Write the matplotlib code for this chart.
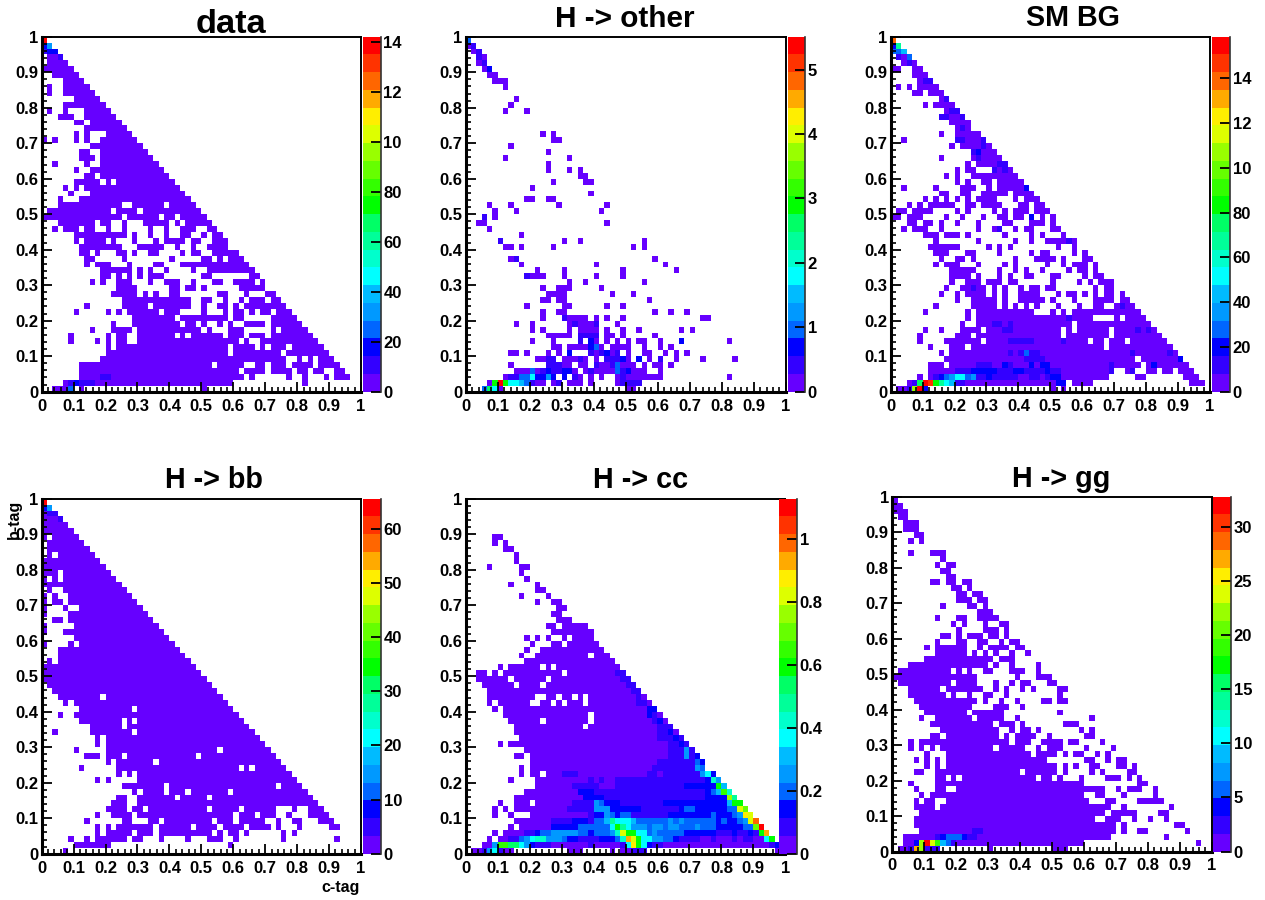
import matplotlib
matplotlib.use('Agg')
import matplotlib.pyplot as plt
import numpy as np
from matplotlib.colors import ListedColormap, BoundaryNorm

# each row is one b-tag bin, top (b=1) to bottom (b=0)
# "3-9" = c-tag bins 3..9 filled in lowest colour band, "7:4" = bin 7 in band 4
data_rows = [
    "0:19", "0:2 1:4", "0-2 0:1 1-2:2", "1-3 3:1", "1-4", "0-5", "2-6", "4-7", "1 4-8", "1 4-9",
    "6-10", "4-11", "1 4 8-12", "3-5 8-13", "6-7 9-14", "8-15", "6 8 12-16", "0 2 6 8 11-17", "9-18", "7-8 11-19",
    "7-9 11-20", "2 8 11-21", "6 9-22", "8-9 11-23", "6-10 12 14-24", "4 6 8-25", "5 9-26", "3 7-27", "3-14 17-22 24-28", "1-12 14-17 19-29",
    "0-14 16-21 23-24 26-30", "3-9 11-12 15 19-23 25 27-29 30-31", "2 4-6 8-9 12 15 20 23 26-28 31-32", "6-15 17 20 23 26-27 30 32-33", "6 8-11 13 17 21 23-26 28-29 32-34", "7-14 18-22 25 28 31-34", "7-8 10 14-15 17 20-21 26 28-29 32-36", "8-9 15 24 30-31 33 35-37", "8 10-12 16 21-22 26-38", "11-16 18 20 23 28 31-33 34-39",
    "11-12 14 16 18 20-22 30-31 39-40", "9 11 14-16 20 23-25 28 32-33 36-39 41", "14-17 24-25 27-28 30 37-41", "13-17 19 21 24-25 33-34 38 42-43", "15-27 30-31 34 37 39-41 43-44", "8 15-19 21-27 30 33-34 36 38-45", "6 12 14 16-21 23-25 30 34 36-37 39 41-42 44-46", "17-24 26-34 36-37 43-47", "13 17-25 27-28 30 33 35 38-41 43-48", "9 13-16 18-29 31 35-37 43 45-49",
    "5 12 14-15 18-24 26 28 29-33 35-37 39-41 43-50", "5 10 12 14-15 18-36 38 41-51", "12 14-31 32-34 36-39 41 43-45 47-52", "12-34 36-39 40-44 46-53", "11-40 41-45 48 50 52-54", "7-31 33-37 40-41 43-45 47-50 52-55", "7-36 38-41 43-44 45-46 48-49 51-52 55-56", "7-37 11-12:1 39 46 49 53 55-57", "4-35 5:1 6:2 7-9:1 49", "2-4 5:3 7 30",
]
other_rows = [
    "0:3", "0-1 1:1", "1-2 2:1", "2-3 2:1", "2-3 3:1", "3-4 4:2", "4-5", "5-7", "7", "",
    "9", "8", "7 11", "", "", "", "14 16", "16-17", "8", "15",
    "7 19", "15", "15 19 21", "21-22", "16 22-23", "12", "23", "11-12 15-16", "4 8 17 26", "5 9 25",
    "3:1 5", "2-3 26", "4", "10", "6:1 18 21 33", "7-8 10 16 31 33", "", "8 9:1 35", "10 24 37", "13 18 29 39",
    "11:1 12-14 18 24 29", "19 22 33", "14 17-19 25", "15-18 27 31", "14-15 17-18 34", "11 18-19 26 29", "14 17-18 35 38 41", "14 18:1 19-22 24 26 29 44-45", "9 12 19-23 20:1 24:1 28", "12 14 19 21-23 24 26 29 32 40 42",
    "15-19 21-24:1 26-27 29 35", "12 16 21:1 23:2 24 26 28 30 32-33 36 40:2 49", "16-17 19-24 23:2 24:3 25 27-30 33 36 38", "8-9 11 15 17 19:2 23:1 24 25:1 26:2 27 28:1 30 33-34 37 39 41", "13-14 15-16:1 18-20 21:1 22 24 26-28:1 29:2 30 32:2 34 36:1 39 44 50", "8 15-17:1 18-19 21-22 24:1 25-26 27:1 28:3 29-31 33 35-36 38", "9-11 12:3 13 14:1 15:2 16-17:1 18-19:2 20 22 23:1 24-27 28:3 29:1 30:2 31-33 36", "7 8-9:1 10:3 11:3 12:6 13-14:2 15:4 16:2 18:2 20:1 21 23 25 28 29:1 30-36 49", "4 5:10 6:19 7:10 8-9:6 10:5 11:3 12:1 13-14 16 17:1 19-21 23 28 29:1 30-32:1", "3:3 4:9 5:6 6 30-31",
]
smbg_rows = [
    "0:17", "0:2 1:8", "0:3 1:3 2:5", "1:1 2 3:3", "2 3:1 4", "0-1 4-5", "4-6", "5 6-7:1", "1 3 5-8", "4-5 7-9",
    "9 10:1", "6 8-11", "10 11-12:1", "9-10:1 11-12 13:1", "11-14", "12-14 13:1", "9 12-16", "2 12-13:1 14-16 17:1", "11 13-16 17:1 18", "15:1 16:2 17-19",
    "9 15 16:1 17-20", "14 16-18 19-21 20-21:1", "12 14-15 19:1 20 21:1 22", "10 12 15-18 19-23", "12 14 17-18 20-24", "2 8 13-15 18 20-24 25:2", "9-10 13-14 17-21 23-26", "6 8 10 12 14 16-19 23 25-27", "3 5 7-11 14-15 17-20 24-25 27-28", "1-2 4-7 12 14 19 21 23-25 27-29",
    "0-1 3-5 10 13 17 20-21 23-24 26:2 28 30", "3-4 6-7 9 12 16 21-22 26-28 30", "2 4-6 9 16 19 20:1 23 25-26 30-31", "6-8 10-12 14 21 26 28 32", "8 16 23 26 29-32 33:1 34", "7-12 18 20 22 31 34", "8-10 14-15 20 26 28-29 34 36", "9 12-13 15 23 27-30 32 36-37", "8 10-12 16 21 23 29 32 34-36 38", "11-15 20 23 25 28 33 35-36 38",
    "11-14 16 20 22 25-26 30-31 36 38-39", "11 14-16 18-20 22-23 30 35 37 39-41", "10 13-14 15:1 16-17 19 21 24 26-27 29-30 38 40-41", "9 12 14-17 19 21 24-27 31 33-34 36 38 40-41 43", "12 15-19 21 24-28 30 34 38-41 43-44", "8 15-19 21 23 25 27 31 35 38-39 42 43:1 44-45", "6 14 16-26 30 32 34-46", "14 16-32 33:1 34-37 42 44-47", "13 16-26 19-20:1 22:1 27-33 35-48", "6 9 13-16 18-31 21-22:1 33 35-40 42-49 46:1 48:1",
    "5 12-14 16-31 33-40 42-50", "5 10-16 18-31 22-26:1 32:1 33-36 38-39 41-43 45-51", "7 11-13 15-39 41-43 44-52", "9 11-53 22:1 24:1 25:3 26-27:1 44 45:1 52:1", "10-45 25-28:1 47-54 54:2", "7-9 11-46 16-18:1 21:2 22:1 26:2 28-29:2 41:1 48-55 49:2", "7-11 12-14:1 15:2 16:2 17-19:2 20-22:1 23-24:2 25-28:1 29:2 30-31:1 32-40 41:1 44 45:1 48-49 51-52 54-56", "5 7 8:1 9:2 10:3 11:4 12-13:6 14:3 15:4 16-17:1 18:2 19-23:1 24-25 26-27:1 28 29:1 30-31:2 32-40 46-47 55-57", "3 4:1 5:9 6:19 7:18 8:10 9:8 10:6 11:5 12-13:1 14-30 31-32:2 34-36 37 56-58", "1-2 3:1 4:13 5:19 6:2 30 32",
]
hbb_rows = [
    "0:19", "0:2 1:4", "0 1-2:1", "0-2 3:1", "0-4", "0-5", "0 2-6", "1-7", "1-8", "1 3-9",
    "0-10", "0-11", "0-2 4-12", "0 2 4-13", "0-14", "1 4-15", "0 2 5-16", "0 2-3 5-17", "0 4 7-18", "0 5-19",
    "2-3 5-20", "0 6-21", "0 4-22", "6-23", "0 5 7-24", "3-25", "3-26", "1 3-27", "0-28", "0-29",
    "0-30", "1-31", "2-32", "3-10 12-33", "4 6-34", "7-16 18-35", "3 6-36", "7-14 16 18-37", "9-14 16-38", "2 9-16 18-39",
    "10 12-40", "10 12-41", "6 12-32 34-42", "8-10 12-14 16-28 30-43", "12 14-20 22-44", "7 14-36 38 40-45", "14 16 18-46", "10 12 18-47", "15-22 24-43 45-48", "17 19-22 24-26 28-34 36-49",
    "14-15 18-24 26-30 32-50", "13-15 18-51", "12-15 17-18 20-30 32-36 38-43 47 50-52", "10 13-16 18-35 37-39 41-43 46 50-53", "8 15-16 20-21 23-31 33-35 37-41 44 47-48 52-54", "10 12 14-20 22-27 29-32 34-37 39-42 44 48 54-55", "10 12-16 18-20 22-24 25-27 28-31 33 35-36 38 45 47", "5 8 10-15 17-18 22 27 31-33 36 45 55", "6-12 35", "4",
]
hcc_rows = [
    "", "", "", "", "", "", "5-6", "5 7", "7-8", "9",
    "9", "4 10-11", "10", "11", "8 13", "13-14", "10 15", "13 16-17", "17-18", "16-17",
    "17-19", "15-16 18-22", "16-23", "11 13 15 18 20-23", "12 16-17 19-24", "11 14-25", "10 13-22 24-26", "11-27", "6 8-13 15 17-28", "2-3 5 7-10 11-17 19-27 28-29:1",
    "2-7 9-14 16-28 29-30:1", "3-8 10-13 15-29 30-31:1", "4-30 31-32:1", "4-12 15-16 18-19 21 23-31 32:1 33", "4 6-11 14-15 17 19-21 23-31 32-33:1 34", "5 7-33 34-35:2", "7-22 24-33 34:2 35:1 36", "8-13 15-22 24-34 35:1 36:2 37", "9-21 23-35 36-38:1", "9-35 36-37:1 38:2 39",
    "10-35 36-38:1 39:2 40:1", "6 8-37 38-39:1 40:2 41:1", "11-37 38-40:1 41:4 42:1", "9-10 12-37 38-40:1 41:4 42:1 43:2", "12-35 36-42:1 43:3 44:2", "10 12-34 35-42:1 43:4 44:3", "10 12-13 15-17 18-20:1 21-33 34-35:1 36 37-43:1 44:4 45:6 46:2", "8 13-20 21-22 23:1 24 25:1 26-27 28-45:1 45:2 46:7 47:4", "13-19 20-24:1 25-27 28-40:1 41-44:2 45-46:2 47:10 48:5", "11-20 21-23:2 24-44:1 45:2 46:3 47:5 48:11 49:7",
    "9-10 11-21 22-25:2 26-44:1 45-48:2 49:13 50:8", "6 9-11 13-19 20-23:1 24:4 25:3 26-28:2 29-36:1 37-46:2 47-48:2 49:5 50-51:10", "5 7 9-18 19-23:1 24-26:4 27:2 28-32:2 33-39:1 40:2 41-42:3 43-46:2 47-48:2 49-50:3 51:14 52:12", "5 8 12-22 23:1 24-25:2 26:4 27:3 28:2 29-30:3 31-37:1 38-45:2 46:3 47-49:2 50:3 51:4 52:15 53:14", "9-15 16-19:1 20-22:2 23:1 24-25:3 26:5 27:8 28-30:6 31:5 32:3 33-34:3 35:3 36-37:3 38:4 39:3 40:4 41-43:3 44-46:3 47:2 48:3 49-50:2 51:3 52:4 53:14 54:17", "8 10-15 16-20:2 21:3 22-26:3 27:6 28:10 29:8 30:6 31-33:4 34:3 35-36:4 37:3 38-39:4 40-42:3 43:4 44-46:3 47-51:2 52-53:3 54:12 55:19", "5 7-10 11-12:1 13:2 14-15:3 16-20:4 21-22:3 23:2 24-26:3 27:4 28:7 29:14 30-31:10 32-33:6 34:3 35:4 36-39:3 40:3 41-46:2 47-49:1 50:2 51-52:1 53:2 54:1 55:10 56:16", "4 6-7 8-9:1 10:3 11:4 12:6 13-14:7 15:4 16-17:4 18:3 19-20:2 21-22:1 23-24:1 25-27:2 28:3 29:7 30:16 31:14 32:10 33-34:6 35-36:4 37-38:3 39:2 40-43:1 44-45 46:1 47-49 50:1 51 52-53:1 54-55 56:6 57:10", "3-4 5:4 6-7:11 8-9:9 10:6 11:4 12:2 13-15:1 16-22 23:1 24-28 29:1 30:6 31:15 32:10 33:6 34:2 35-36:1 37-56 57:1 58:2", "1-2 3:1 4:4 5:6 6:1 7-8 19-21 27 29-30 31-33:1 58",
]
hgg_rows = [
    "0", "0-1", "0-2", "1-2", "2-4", "2-4", "4-5", "3 5", "", "3 7-9",
    "9", "8 10-11", "9-10", "10-11", "7-8 10-11 13-14", "11-12 14", "12-13 15-16", "12-14 16-17", "9 14-15 17", "16-18",
    "8 12-13 16-19", "11 13 17 20-21", "12 17-19 21", "9-10 12 14-16 18-19 21", "8 12-13 16-17 20 22-23", "6 8-13 16 18-21 23-24", "8-13 15 17 19 22 25", "6-18 20-22", "3-17 19 22 27", "1-10 12 14 17-18 22-24 27",
    "0-15 23 27-29", "1-10 12-15 19 22 24-25 29-30", "3-8 10-16 19 21 24 26 31-32", "3-9 11 14 17-18 21 31", "4-12 13-15 17 20 23 28-29 31-32", "5-14 19-21 24", "6-13 15-20 31", "5 8-14 16-20 23 37", "7-18 20-22 24 32-34", "9-19 22 24-25 27 35 37",
    "7-8 10-19 21 23-26 29 36-37", "3 5-19 20-21 23-25 28-31 33-34 39", "3 5 7 9-18 20-24 27 29-31 36 41", "6 10-21 22-25 27-30 32 34-35 38 40", "4 6 8 10-28 36-37 40 42-43", "6 8 10-30 32 34 37-38 42-43 45", "4-5 8-23 25-30 32 37 39 44-45", "8-9 11 13-26 28-29 31 35 40-42 44 46", "3 8-35 46-47", "4 8-9 12-37 38-39 42 44-46 49",
    "5 7-35 38-39 43 49", "4 6-7 10-36 40-41 46-50", "4-7 9-40 43 52", "5-37 38-39 41-45 50-51", "4-37 40-42 45 48 51", "4-40 41 43 53-54", "5-41 15-16:1 43 46-47 55", "2-40 8:1 9:2 10-12:3 13:2 14-15:1 51", "2-35 4:2 5:13 6:19 7:14 8:11 9:5 10:3 11:1 57", "1-2 3:1 4:16 5:13 6:1 7-8:1 18 30-32",
]

titles = ["data", "H -> other", "SM BG", "H -> bb", "H -> cc", "H -> gg"]
panels = [data_rows, other_rows, smbg_rows, hbb_rows, hcc_rows, hgg_rows]
zmax = [14.2, 5.51, 15.85, 65.5, 1.127, 32.8]
cbar_ticks = [
    [0, 2, 4, 6, 8, 10, 12, 14],
    [0, 1, 2, 3, 4, 5],
    [0, 2, 4, 6, 8, 10, 12, 14],
    [0, 10, 20, 30, 40, 50, 60],
    [0, 0.2, 0.4, 0.6, 0.8, 1],
    [0, 5, 10, 15, 20, 25, 30],
]
cbar_labels = [
    ["0", "20", "40", "60", "80", "10", "12", "14"],
    ["0", "1", "2", "3", "4", "5"],
    ["0", "20", "40", "60", "80", "10", "12", "14"],
    ["0", "10", "20", "30", "40", "50", "60"],
    ["0", "0.2", "0.4", "0.6", "0.8", "1"],
    ["0", "5", "10", "15", "20", "25", "30"],
]
axis_ticks = [0, 0.1, 0.2, 0.3, 0.4, 0.5, 0.6, 0.7, 0.8, 0.9, 1]
axis_labels = ["0", "0.1", "0.2", "0.3", "0.4", "0.5", "0.6", "0.7", "0.8", "0.9", "1"]

# ROOT rainbow palette, 20 contours
palette = ["#6600ff", "#3300ff", "#0000ff", "#0066ff", "#0099ff", "#00bbff", "#00ffff", "#00ffcc", "#00ff99", "#00ff66",
           "#00ff00", "#33ff00", "#66ff00", "#99ff00", "#ddff00", "#ffee00", "#ffaa00", "#ff6600", "#ff3300", "#ff0000"]

W, H = 1265, 900
# left, right, top, bottom in pixels
ax_px = [(41.7, 361, 36.7, 391.7), (465.7, 785.7, 36.7, 391.7), (890.7, 1210, 36.7, 391.7),
         (41.7, 361, 498.7, 853.7), (465.7, 785.3, 498.7, 853.7), (892.3, 1211.7, 496.7, 851.5)]
cb_px = [(363, 380.5), (787.7, 805), (1212, 1230), (363, 381), (779, 797), (1212.7, 1231)]
# x centre, baseline y, size
title_pos = [(230.5, 33, 24.8), (624.5, 27, 21.4), (1072.5, 26, 20.7), (213.5, 488, 20.6), (640.5, 488, 20.7), (1061, 487, 20.7)]


def parse_rows(rows, top):
    grid = np.full((60, 60), np.nan)
    for r, row in enumerate(rows):
        for tok in row.split():
            rng, _, band = tok.partition(":")
            a, _, b = rng.partition("-")
            b = b or a
            grid[59 - r, int(a):int(b) + 1] = (int(band or 0) + 0.5) * top / 20
    return grid


def px_axes(fig, l, r, t, b):
    return fig.add_axes([l / W, 1 - b / H, (r - l) / W, (b - t) / H])


plt.rcParams['font.family'] = ['Liberation Sans', 'DejaVu Sans']
plt.rcParams['font.weight'] = 'bold'
fig = plt.figure(figsize=(W / 100, H / 100), dpi=100, facecolor='white')
cmap = ListedColormap(palette)
edges = np.linspace(0, 1, 61)

for i in range(6):
    l, r, t, b = ax_px[i]
    ax = px_axes(fig, l, r, t, b)
    norm = BoundaryNorm(np.linspace(0, zmax[i], 21), 20)
    z = np.ma.masked_invalid(parse_rows(panels[i], zmax[i]))
    mesh = ax.pcolormesh(edges, edges, z, cmap=cmap, norm=norm, linewidth=0, rasterized=True)
    ax.set_xlim(0, 1)
    ax.set_ylim(0, 1)
    ax.set_xticks(axis_ticks)
    ax.set_xticklabels(axis_labels)
    ax.set_yticks(axis_ticks)
    ax.set_yticklabels(axis_labels)
    ax.set_xticks(np.arange(0, 1.001, 0.02), minor=True)
    ax.set_yticks(np.arange(0, 1.001, 0.02), minor=True)
    ax.tick_params(which='major', direction='in', length=7, width=1.3, labelsize=12)
    ax.tick_params(which='minor', direction='in', length=3.5, width=1.2)
    ax.tick_params(axis='x', which='major', pad=5)
    ax.tick_params(axis='y', which='major', pad=2.5)
    ax.spines['left'].set_linewidth(2.2)
    ax.spines['bottom'].set_linewidth(2.2)
    ax.spines['top'].set_linewidth(1.4)
    ax.spines['right'].set_linewidth(1.4)

    cl, cr = cb_px[i]
    cax = px_axes(fig, cl, cr, t, b)
    cb = fig.colorbar(mesh, cax=cax, spacing='proportional')
    cb.set_ticks(cbar_ticks[i])
    cb.set_ticklabels(cbar_labels[i])
    cb.minorticks_off()
    cb.outline.set_visible(False)
    cax.tick_params(direction='in', length=7, width=1.3, labelsize=12, pad=2, right=True, left=False)
    cax.axvline(1, color='#333333', lw=1.2, clip_on=False)
    x, y, fs = title_pos[i]
    fig.text(x / W, 1 - y / H, titles[i], ha='center', va='baseline', fontsize=fs, fontweight='bold')

fig.text(341 / W, 1 - 892 / H, "c-tag", ha='center', va='baseline', fontsize=11.5, fontweight='bold')
fig.text(14 / W, 1 - 519 / H, "b-tag", ha='center', va='center', rotation=90, fontsize=11.5, fontweight='bold')

plt.savefig('out.png', dpi=100)
